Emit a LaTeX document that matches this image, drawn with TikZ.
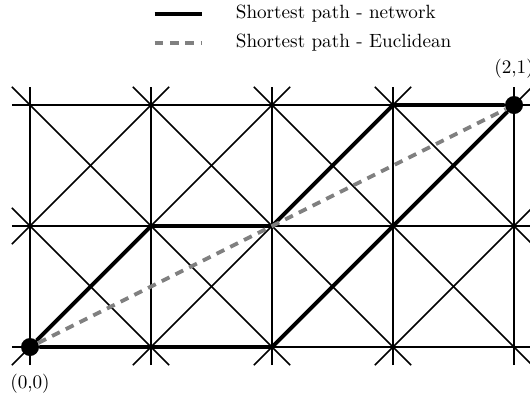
\documentclass[tikz,border=0pt]{standalone}
\usetikzlibrary{positioning}
\begin{document}
\begin{tikzpicture}[x=2.22cm, y=2.22cm,
		gridline/.style={line width=0.8pt},
		ext/.style={shorten <=-#1, shorten >=-#1},
		netpath/.style={line width=2pt},
		euclpath/.style={line width=2pt, gray, dash pattern=on 4.5pt off 3.5pt},
		endpoint/.style={circle, fill=black, inner sep=0pt, minimum size=0.33cm}]
		\useasboundingbox (-0.248,-0.421) rectangle (4.132,2.868);
		% lattice points
		\foreach \i in {0,...,4}
			\foreach \j in {0,1,2}
				\coordinate (p\i\j) at (\i,\j);
		% lattice lines
		\foreach \j in {0,1,2}
			\draw[gridline, ext=0.333cm] (p0\j) -- (p4\j);
		\foreach \i in {0,...,4}
			\draw[gridline, ext=0.333cm] (p\i0) -- (p\i2);
		\foreach \a/\b in {01/12, 00/22, 10/32, 20/42, 30/41, 01/10, 02/20, 12/30, 22/40, 32/41}
			\draw[gridline, ext=0.471cm] (p\a) -- (p\b);
		% end points
		\node[endpoint] (start) at (p00) {};
		\node[endpoint] (goal) at (p42) {};
		\node[below=0.2cm of start] (startlabel) {(0,0)};
		\node[above=0.2cm of goal] (goallabel) {(2,1)};
		% shortest paths
		\draw[netpath] (start) -- (p11) -- (p21) -- (p32) -- (goal);
		\draw[netpath] (start) -- (p20) -- (goal);
		\draw[euclpath] (start) -- (goal);
		% legend
		\coordinate (netA) at (1.03,2.752);
		\coordinate (netB) at (1.42,2.752);
		\coordinate (euclA) at (1.03,2.512);
		\coordinate (euclB) at (1.42,2.512);
		\draw[netpath] (netA) -- (netB);
		\draw[euclpath] (euclA) -- (euclB);
		\node[right=0.5cm of netB] (netlabel) {Shortest path - network};
		\node[right=0.5cm of euclB] (eucllabel) {Shortest path - Euclidean};
	\end{tikzpicture}
\end{document}
